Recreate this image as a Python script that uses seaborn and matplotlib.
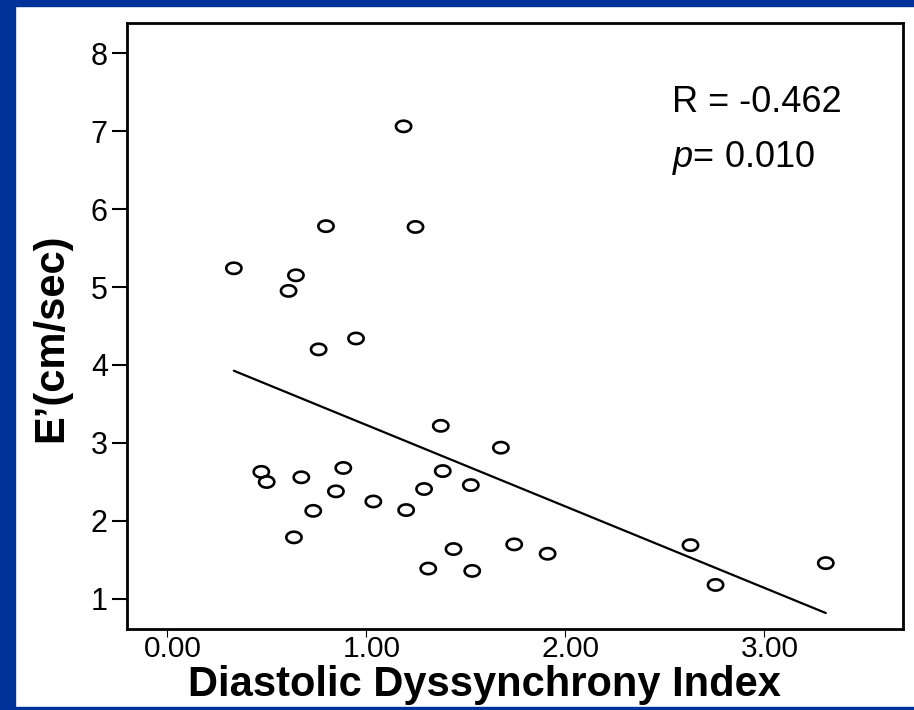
#! /usr/bin/env python3

import numpy as np
import pandas as pd
import seaborn as sns
import matplotlib.pyplot as plt
from matplotlib.path import Path
from matplotlib.patches import Rectangle
from matplotlib.transforms import ScaledTranslation

# values (30 patients)
ddi = [1.19, 0.80, 1.25, 0.337, 0.649, 0.612, 0.951, 0.763,
       1.377, 1.679, 0.475, 0.502, 0.676, 0.887, 0.850, 1.387,
       1.293, 1.528, 0.736, 1.038, 1.203, 0.639, 1.441, 1.746,
       1.314, 1.535, 1.914, 2.632, 2.758, 3.312]
e_prime = [7.06, 5.78, 5.77, 5.24, 5.15, 4.95, 4.34, 4.20,
           3.22, 2.94, 2.63, 2.50, 2.56, 2.68, 2.38, 2.64,
           2.41, 2.46, 2.13, 2.25, 2.14, 1.79, 1.64, 1.70,
           1.39, 1.36, 1.58, 1.69, 1.18, 1.46]
x_ticks = [0, 1, 2, 3]
x_tick_labels = ["0.00", "1.00", "2.00", "3.00"]
y_ticks = [1, 2, 3, 4, 5, 6, 7, 8]
stats_r = "R = -0.462"
stats_p = "$\\mathit{p}$= 0.010"

df = pd.DataFrame({"ddi": ddi, "e_prime": e_prime})

sns.set_theme(style="white")
plt.rcParams["font.family"] = ["Liberation Sans", "DejaVu Sans"]
plt.rcParams["mathtext.fontset"] = "custom"
plt.rcParams["mathtext.it"] = "Liberation Sans:italic"
plt.rcParams["mathtext.rm"] = "Liberation Sans"
plt.rcParams["text.color"] = "black"
plt.rcParams["axes.labelcolor"] = "black"
plt.rcParams["xtick.color"] = "black"
plt.rcParams["ytick.color"] = "black"

# open ellipse marker, wider than tall
t = np.linspace(0, 2 * np.pi, 60)
ellipse = Path(np.column_stack([0.5 * np.cos(t), 0.37 * np.sin(t)]), closed=True)

fig = plt.figure(figsize=(9.14, 7.10), dpi=100, facecolor="white")
ax = fig.add_axes([127 / 914, 1 - 629 / 710, 776 / 914, 606 / 710])

sns.scatterplot(
    data=df, x="ddi", y="e_prime", ax=ax,
    marker=ellipse, s=120, facecolor="none", edgecolor="black", linewidth=1.9,
)
sns.regplot(
    data=df, x="ddi", y="e_prime", ax=ax, scatter=False, ci=None,
    line_kws={"color": "black", "linewidth": 1.6},
)

ax.set_xlim(-0.2, 3.70)
ax.set_ylim(0.615, 8.385)
ax.set_xticks(x_ticks)
ax.set_xticklabels(x_tick_labels)
ax.set_yticks(y_ticks)

for side in ["top", "right", "bottom", "left"]:
    ax.spines[side].set_visible(True)
    ax.spines[side].set_color("black")
    ax.spines[side].set_linewidth(2.0)

ax.tick_params(axis="y", direction="out", length=10.8, width=1.5,
               labelsize=22, pad=3, left=True)
ax.tick_params(axis="x", direction="out", length=6, width=0.8,
               labelsize=21.5, pad=-1.5, bottom=True)
for lab in ax.get_xticklabels():
    lab.set_transform(lab.get_transform() + ScaledTranslation(6 / 100, 0, fig.dpi_scale_trans))

ax.set_xlabel("Diastolic Dyssynchrony Index", fontsize=30, fontweight="bold")
ax.set_ylabel("E\u2019(cm/sec)", fontsize=30, fontweight="bold")
ax.xaxis.set_label_coords(0.46, -0.06)
ax.yaxis.set_label_coords(-0.072, 0.48)

ax.text(0.702, 0.853, stats_r, transform=ax.transAxes, fontsize=26, va="baseline", color="black")
ax.text(0.702, 0.762, stats_p, transform=ax.transAxes, fontsize=26, va="baseline", color="black")

# blue slide frame
blue = "#003399"
fig.add_artist(Rectangle((0, 0), 15 / 914, 1, transform=fig.transFigure, color=blue, zorder=0))
fig.add_artist(Rectangle((0, 1 - 6 / 710), 1, 6 / 710, transform=fig.transFigure, color=blue, zorder=0))
fig.add_artist(Rectangle((0, 0), 1, 3 / 710, transform=fig.transFigure, color=blue, zorder=0))

plt.savefig("out.png", dpi=100, facecolor="white")
